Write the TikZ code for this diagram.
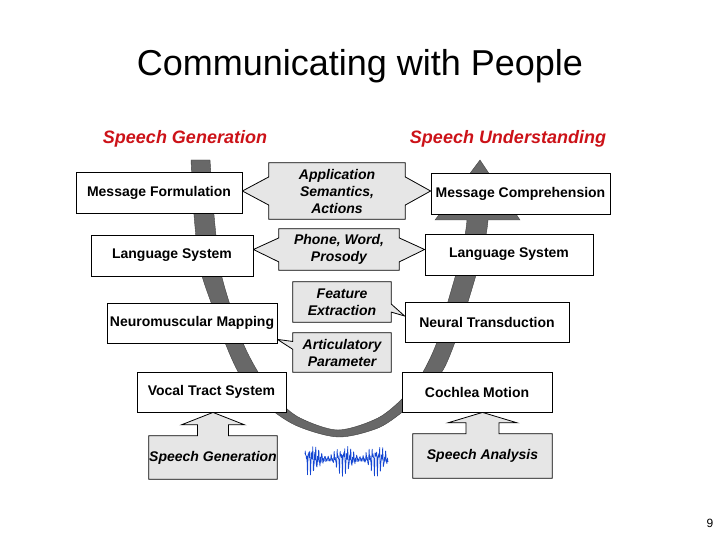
\documentclass[tikz,border=0pt]{standalone}
\usepackage{fontspec}
\setmainfont{Liberation Sans}
\usetikzlibrary{calc,backgrounds}
\definecolor{headred}{RGB}{204,18,24}
\definecolor{callgray}{RGB}{230,230,230}
\definecolor{bandgray}{RGB}{104,104,104}
\definecolor{wavecol}{RGB}{20,70,210}
\tikzset{
  box/.style={draw, fill=white, line width=0.8pt, minimum height=41pt, inner sep=0pt,
    font=\fontsize{14}{17}\selectfont\bfseries},
  calltext/.style={inner sep=0pt, align=center,
    font=\fontsize{14}{17}\selectfont\bfseries\itshape},
  callshape/.style={draw, fill=callgray, line width=0.8pt, line join=miter},
}
\begin{document}
\begin{tikzpicture}[x=1pt,y=-1pt]
      \useasboundingbox (0,0) rectangle (720,540);
      \draw
        (360,66.5) node[font=\fontsize{36}{43}\selectfont] (title){Communicating with People}
        (185,138.5) node[text=headred, font=\fontsize{18}{22}\selectfont\bfseries\itshape] (gen){Speech Generation}
        (508,138.5) node[text=headred, font=\fontsize{18}{22}\selectfont\bfseries\itshape] (und){Speech Understanding}
        (159,192.5) node[box, minimum width=166pt] (mf){Message Formulation}
        (172,255.5) node[box, minimum width=162pt] (lsl){Language System}
        (192,323) node[box, minimum width=170pt, minimum height=40pt] (nm){Neuromuscular Mapping}
        (211.5,392) node[box, minimum width=149pt, minimum height=40pt] (vt){Vocal Tract System}
        (520.5,193.5) node[box, minimum width=179pt] (mc){Message Comprehension}
        (509,254.5) node[box, minimum width=168pt] (lsr){Language System}
        (487,322) node[box, minimum width=164pt, minimum height=40pt] (nt){Neural Transduction}
        (477,392) node[box, minimum width=150pt, minimum height=40pt] (cm){Cochlea Motion}
        (337,191) node[calltext, minimum width=136pt, minimum height=56pt] (app){Application\\Semantics,\\Actions}
        (339,249.5) node[calltext, minimum width=120pt, minimum height=41pt] (ph){Phone, Word,\\Prosody}
        (342,302) node[calltext, minimum width=98pt, minimum height=40pt] (fe){Feature\\Extraction}
        (342,352.5) node[calltext, minimum width=98pt, minimum height=39pt] (ap){Articulatory\\Parameter}
        (213,457.5) node[calltext, minimum width=128pt, minimum height=43pt] (sg){Speech Generation}
        (482.5,456) node[calltext, minimum width=139pt, minimum height=44pt] (sa){Speech Analysis}
        (710,523.5) node[font=\fontsize{12}{14}\selectfont] (pg){9};
      % speech signal
      \draw[wavecol, line width=0.7pt, line join=round] plot[domain=0:83, samples=300]
        (305+\x, {459-(8*sin(100*mod(1.13*\x,3.6))+6*sin(100*mod(2.37*\x+0.3,3.6))
          +4*sin(100*mod(3.71*\x+0.7,3.6)))*(0.6+0.4*sin(11*\x+20))});
      \begin{pgfonlayer}{background}
        % the big U arrow
        \fill[bandgray, draw=black!75, line width=0.4pt]
          plot[smooth] coordinates {(191,160) (194,215) (200,268) (213,308) (226,345) (240,375)
            (262,402) (295,425) (338,437) (378,428) (405,410) (425,392) (443,370) (455,342)
            (467,305) (478,268) (486,235) (488,220)}
          -- (520,220) -- (480,160) -- (435,220) --
          plot[smooth] coordinates {(467,220) (465,235) (457,270) (447,305) (437,342) (423,372)
            (405,396) (378,418) (338,430) (300,418) (278,400) (258,372) (243,343) (230,305)
            (220,268) (214,215) (210,160)}
          -- cycle;
        % callouts between the two columns
        \draw[callshape] (app.north west) -- (app.north east)
          -- ($(app.north east)!.25!(app.south east)$) -- (mc.west |- app.east)
          -- ($(app.north east)!.75!(app.south east)$) -- (app.south east)
          -- (app.south west) -- ($(app.north west)!.75!(app.south west)$)
          -- (mf.east |- app.west) -- ($(app.north west)!.25!(app.south west)$) -- cycle;
        \draw[callshape] (ph.north west) -- (ph.north east)
          -- ($(ph.north east)!.22!(ph.south east)$) -- (lsr.west |- ph.east)
          -- ($(ph.north east)!.8!(ph.south east)$) -- (ph.south east)
          -- (ph.south west) -- ($(ph.north west)!.8!(ph.south west)$)
          -- (lsl.east |- ph.west) -- ($(ph.north west)!.22!(ph.south west)$) -- cycle;
        \draw[callshape] (fe.north west) -- (fe.north east)
          -- ($(fe.north east)!.55!(fe.south east)$) -- ([yshift=6pt]nt.west)
          -- ($(fe.north east)!.75!(fe.south east)$) -- (fe.south east)
          -- (fe.south west) -- cycle;
        \draw[callshape] (ap.north west) -- (ap.north east) -- (ap.south east)
          -- (ap.south west) -- ($(ap.north west)!.42!(ap.south west)$)
          -- ([yshift=4pt]nm.south east) -- ($(ap.north west)!.22!(ap.south west)$) -- cycle;
        % input arrows
        \draw[callshape] (sg.south west) -- (sg.north west)
          -- ([xshift=-15.5pt]sg.north) -- ([xshift=-15.5pt,yshift=11pt]sg.north)
          -- ([xshift=-31.5pt,yshift=11pt]sg.north) -- (sg.north |- vt.south)
          -- ([xshift=31.5pt,yshift=11pt]sg.north) -- ([xshift=15.5pt,yshift=11pt]sg.north)
          -- ([xshift=15.5pt]sg.north) -- (sg.north east) -- (sg.south east) -- cycle;
        \draw[callshape] (sa.south west) -- (sa.north west)
          -- ([xshift=-16.5pt]sa.north) -- ([xshift=-16.5pt,yshift=11pt]sa.north)
          -- ([xshift=-34.5pt,yshift=11pt]sa.north) -- (sa.north |- cm.south)
          -- ([xshift=34.5pt,yshift=11pt]sa.north) -- ([xshift=16.5pt,yshift=11pt]sa.north)
          -- ([xshift=16.5pt]sa.north) -- (sa.north east) -- (sa.south east) -- cycle;
      \end{pgfonlayer}
    \end{tikzpicture}
\end{document}
